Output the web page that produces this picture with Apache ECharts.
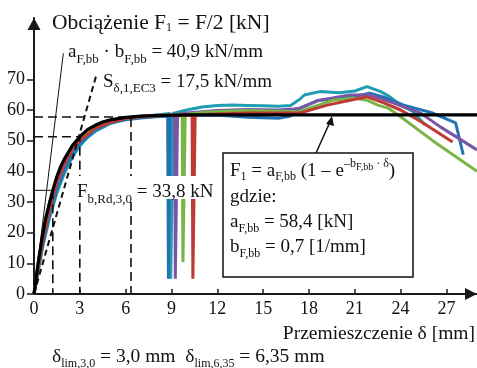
<!DOCTYPE html>
<html>
<head>
<meta charset="utf-8">
<script src="https://cdn.jsdelivr.net/npm/echarts@6/dist/echarts.min.js"></script>
<style>
  html, body { margin: 0; padding: 0; background: #fff; }
  #chart { width: 477px; height: 368px; }
</style>
</head>
<body>
<div id="chart"></div>
<script>
const xTicks = [0, 3, 6, 9, 12, 15, 18, 21, 24, 27]
const yTicks = [0, 10, 20, 30, 40, 50, 60, 70]

// przebiegi z badan (delta [mm], F1 [kN])
const teal = [[0,0],[0.3,8],[0.6,16],[1,24.5],[1.5,33],[2,39.5],[2.5,44.5],[3,48.3],[3.5,51],[4,53],[5,55.6],[6,57],[7,57.8],[8,58.4],[8.9,58.9],[8.95,5],[9.1,58.9],[10,60],[11,61],[12,61.5],[13,61.6],[14,61.5],[15,61.4],[16,61.2],[16.8,61.5],[17.4,63.5],[17.7,64.9],[18.7,66],[20,65.6],[21,66.2],[21.8,67.6],[22.7,66],[23.3,64.3],[24,61.6],[24.8,59.5],[25.6,55.1]]
const blue = [[0,0],[0.3,9],[0.6,17],[1,25.5],[1.5,34],[2,40.5],[2.5,45.5],[3,49],[4,53.5],[5,55.8],[6,56.8],[7,57.4],[8,57.8],[8.75,58],[8.8,5],[8.9,58],[10,58.2],[12,58.4],[14,57.6],[16,57.3],[16.8,58],[17.4,60.5],[18.5,63],[20,64],[21,64.5],[22,65.5],[23,64],[24.2,61.6],[26.1,59],[27.6,55.8],[28.1,45.4]]
const purple = [[0,0],[0.3,11],[0.6,20],[1,29.5],[1.5,38],[2,44],[2.5,48],[3,51],[4,54.8],[5,56.6],[6,57.5],[7,58],[8,58.3],[9.2,58.6],[9.25,5],[9.4,58.6],[10,59],[12,59.8],[14,60.2],[16,60],[17,60.3],[17.4,60.6],[18.7,63.2],[20.7,64.9],[22,64.9],[23.5,62.3],[25.3,59],[26.6,54.5],[29,47]]
const green = [[0,0],[0.3,10],[0.6,19],[1,28.5],[1.5,37],[2,43],[2.5,47.5],[3,50.5],[4,54.5],[5,56.4],[6,57.4],[7,57.9],[8,58.2],[9.7,58.5],[9.75,10.4],[9.9,58.5],[11,59.2],[12,59.5],[14,59.8],[16,59.6],[17,59.4],[17.4,59.5],[19.6,63.2],[20.9,63.9],[21.8,63.2],[22.5,61.6],[23.2,60.6],[24,57.8],[26.1,50],[29,40]]
const red = [[0,0],[0.3,9.5],[0.6,18],[1,27.5],[1.5,36.5],[2,42.5],[2.5,47],[3,50],[4,54],[5,56],[6,57.2],[7,57.8],[8,58.1],[10.35,58.4],[10.4,5],[10.55,58.4],[12,58.7],[14,59],[16,59],[17.4,59],[19.2,61.6],[20.7,63.2],[21.8,64.3],[22.9,62.3],[24,60],[25.4,56],[27.4,49.6]]

// krzywa aproksymujaca (odczyt z rysunku)
const fitCurve = [[0,0],[0.25,9.3],[0.5,17.4],[0.75,24.4],[1,29.4],[1.25,34.2],[1.5,38.3],[1.75,41.6],[2,44.1],[2.5,48.3],[3,51.3],[3.5,53.6],[4,55],[4.5,56.1],[5,56.8],[6,57.6],[7,58],[8,58.2],[10,58.4],[29,58.4]]

// linie pomocnicze
const tangent = [[0,0],[1.92,78.5]]
const secant = [[0,0],[4.1,71.7]]
const lim635 = [[0,57.7],[6.35,57.7],[6.35,0]]
const lim30 = [[0,51.3],[3,51.3],[3,0]]
const rd30h = [[0,33.8],[1.23,33.8]]
const rd30v = [[1.23,33.8],[1.23,0]]

const FONT = 'Liberation Serif'
const chart = echarts.init(document.getElementById('chart'))

// tekst z indeksami: m - zwykly, s - dolny, p - gorny, q - dolny w gornym
function richLabel(x, baseline, parts, opt = {}) {
  const M = opt.size || 19
  const S = opt.sub || 13
  const d = opt.drop === undefined ? 6 : opt.drop
  const k = 0.3375
  const supBase = S * 0.5 + S * k
  const B = supBase + 9
  const padM = B - M * 0.5 - M * k
  const padS = B + d - S * 0.5 - S * k
  const Q = S - 2
  const padQ = supBase + 3 - Q * 0.5 - Q * k
  const text = parts.map(([t, st]) => '{' + st + '|' + t + '}').join('')
  return {
    type: 'text',
    z: 110,
    style: {
      x: x,
      y: baseline - B - (opt.padding ? opt.padding[0] : 0),
      text: text,
      align: opt.align || 'left',
      verticalAlign: 'top',
      fill: '#111',
      backgroundColor: opt.bg,
      padding: opt.padding,
      rich: {
        m: { fontFamily: FONT, fontSize: M, lineHeight: M, verticalAlign: 'top', padding: [padM, 0, 0, 0], fill: '#111' },
        s: { fontFamily: FONT, fontSize: S, lineHeight: S, verticalAlign: 'top', padding: [padS, 0, 0, 0], fill: '#111' },
        p: { fontFamily: FONT, fontSize: S, lineHeight: S, verticalAlign: 'top', padding: [0, 0, 0, 0], fill: '#111' },
        q: { fontFamily: FONT, fontSize: Q, lineHeight: Q, verticalAlign: 'top', padding: [padQ, 0, 0, 0], fill: '#111' }
      }
    }
  }
}

function curve(name, data, color) {
  return {
    name, type: 'line', data, showSymbol: false, z: 3,
    lineStyle: { color, width: 3 }, itemStyle: { color }
  }
}

function helper(data, width, type, dash) {
  return {
    type: 'line', data, showSymbol: false, z: 6, silent: true,
    lineStyle: { color: '#111', width, type: dash || type }
  }
}

const option = {
  animation: false,
  grid: { left: 34, right: 0, top: 18, bottom: 74 },
  xAxis: {
    type: 'value', min: 0, max: 29,
    axisLine: { lineStyle: { color: '#1a1a1a', width: 2 }, symbol: ['none', 'triangle'], symbolSize: [12, 12], symbolOffset: [0, -6] },
    axisTick: { inside: true, length: 5, customValues: xTicks, lineStyle: { color: '#1a1a1a', width: 1.5 } },
    axisLabel: { customValues: xTicks, margin: 6, color: '#111', fontFamily: FONT, fontSize: 18 },
    splitLine: { show: false }
  },
  yAxis: {
    type: 'value', min: 0, max: 90,
    axisLine: { show: true, lineStyle: { color: '#1a1a1a', width: 2 }, symbol: ['none', 'triangle'], symbolSize: [13, 12], symbolOffset: [0, -6] },
    axisTick: { show: true, length: 7, customValues: yTicks, lineStyle: { color: '#1a1a1a', width: 1.5 } },
    axisLabel: { customValues: yTicks, margin: 9, color: '#111', fontFamily: FONT, fontSize: 18 },
    splitLine: { show: false }
  },
  series: [
    curve('teal', teal, '#1e9db3'),
    curve('blue', blue, '#2372b3'),
    curve('purple', purple, '#7955a6'),
    curve('green', green, '#78b545'),
    curve('red', red, '#bf3a32'),
    helper(tangent, 1, 'solid'),
    helper(secant, 2, 'dashed', [6, 4]),
    helper(lim635, 1.6, 'dashed', [9, 5]),
    helper(lim30, 1.6, 'dashed', [9, 5]),
    helper(rd30h, 1, 'solid'),
    helper(rd30v, 1.6, 'dashed', [9, 5]),
    { name: 'fit', type: 'line', data: fitCurve, showSymbol: false, z: 8, lineStyle: { color: '#000', width: 3.2 } }
  ],
  graphic: [
    richLabel(52, 30, [['Obciążenie F', 'm'], ['1', 's'], [' = F/2 [kN]', 'm']], { size: 21.5, sub: 12, drop: 2 }),
    richLabel(68, 58, [['a', 'm'], ['F,bb', 's'], [' · b', 'm'], ['F,bb', 's'], [' = 40,9 kN/mm', 'm']], { size: 19, sub: 13 }),
    richLabel(103, 88, [['S', 'm'], ['δ,1,EC3', 's'], [' = 17,5 kN/mm', 'm']], { size: 19, sub: 13, drop: 5 }),
    richLabel(75, 198, [['F', 'm'], ['b,Rd,3,0', 's'], [' = 33,8 kN', 'm']], { size: 19, sub: 13, drop: 6, bg: '#fff', padding: [2, 2, 2, 2] }),
    {
      type: 'rect', z: 105,
      shape: { x: 223, y: 153, width: 190, height: 124 },
      style: { fill: '#fff', stroke: '#111', lineWidth: 1.5 }
    },
    richLabel(230, 177, [['F', 'm'], ['1', 's'], [' = a', 'm'], ['F,bb', 's'], [' (1 – e', 'm'], ['–b', 'p'], ['F,bb', 'q'], [' · δ', 'p'], [')', 'm']], { size: 19, sub: 12, drop: 4 }),
    richLabel(230, 203, [['gdzie:', 'm']], { size: 19 }),
    richLabel(230, 228, [['a', 'm'], ['F,bb', 's'], [' = 58,4 [kN]', 'm']], { size: 19, sub: 12, drop: 5 }),
    richLabel(230, 253, [['b', 'm'], ['F,bb', 's'], [' = 0,7 [1/mm]', 'm']], { size: 19, sub: 12, drop: 5 }),
    {
      type: 'line', z: 106,
      shape: { x1: 316, y1: 153, x2: 330, y2: 122 },
      style: { stroke: '#111', lineWidth: 1.5 }
    },
    {
      type: 'polygon', z: 106,
      shape: { points: [[332, 116], [326, 124], [334, 126]] },
      style: { fill: '#111' }
    },
    richLabel(475, 340, [['Przemieszczenie δ [mm]', 'm']], { size: 19.5, align: 'right' }),
    richLabel(52, 363, [['δ', 'm'], ['lim,3,0', 's'], [' = 3,0 mm  δ', 'm'], ['lim,6,35', 's'], [' = 6,35 mm', 'm']], { size: 19.5, sub: 12, drop: 5 })
  ]
}

chart.setOption(option)
window.addEventListener('resize', () => chart.resize())
</script>
</body>
</html>
